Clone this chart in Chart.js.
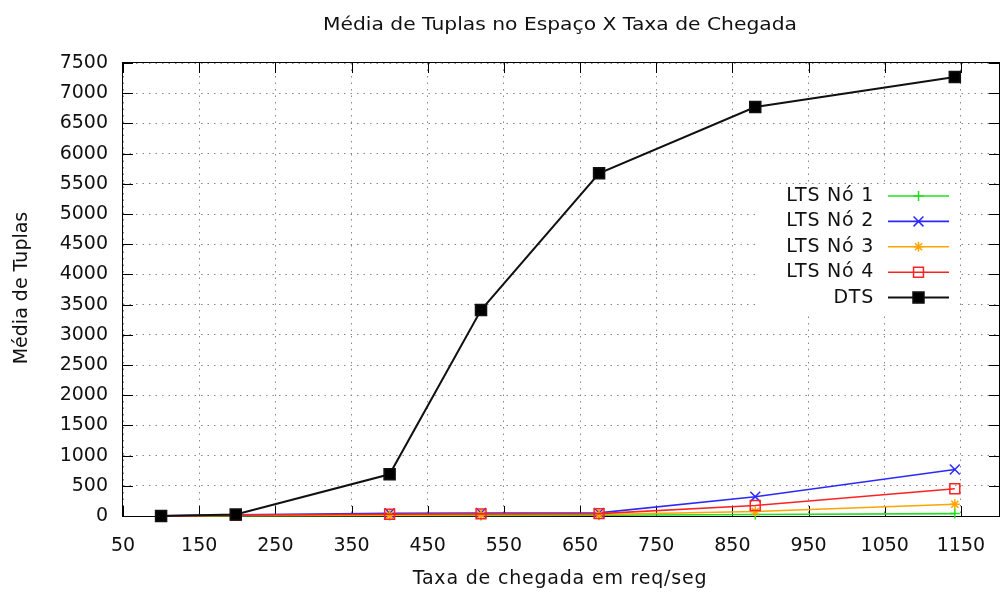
<!DOCTYPE html>
<html>
<head>
<meta charset="utf-8">
<script src="https://cdn.jsdelivr.net/npm/chart.js@4.4.0/dist/chart.umd.min.js"></script>
<style>
html, body { margin: 0; padding: 0; background: #fff; }
#wrap { width: 1000px; height: 592px; }
</style>
</head>
<body>
<div id="wrap"><canvas id="chartTuplas"></canvas></div>
<script>
const taxaChegada = [100, 198, 400, 520, 675, 880, 1142]
const ltsNo1 = [2, 5, 8, 10, 12, 25, 40]
const ltsNo2 = [3, 20, 45, 50, 52, 320, 770]
const ltsNo3 = [1, 8, 15, 20, 25, 75, 195]
const ltsNo4 = [2, 12, 28, 35, 40, 175, 450]
const dts = [0, 25, 690, 3410, 5675, 6770, 7270]
const xTicks = [50, 150, 250, 350, 450, 550, 650, 750, 850, 950, 1050, 1150]
const seriesNames = ['LTS Nó 1', 'LTS Nó 2', 'LTS Nó 3', 'LTS Nó 4', 'DTS']
const chartTitle = 'Média de Tuplas no Espaço X Taxa de Chegada'
const xTitle = 'Taxa de chegada em req/seg'
const yTitle = 'Média de Tuplas'

const FONT = 'DejaVu Sans'

function pts(ys) {
    return taxaChegada.map((x, i) => ({x: x, y: ys[i]}))
}

// gnuplot style frame, inward ticks, titles and opaque key
const gnuplotFrame = {
    id: 'gnuplotFrame',
    beforeDatasetsDraw(chart) {
        const {ctx, chartArea: a, scales: {x, y}} = chart
        ctx.save()
        // key box (opaque)
        ctx.fillStyle = '#fff'
        ctx.fillRect(760, 186, 197, 126)

        ctx.strokeStyle = '#000'
        ctx.lineWidth = 1
        ctx.beginPath()
        y.ticks.forEach(t => {
            const py = Math.round(y.getPixelForValue(t.value)) + 0.5
            ctx.moveTo(a.left, py); ctx.lineTo(a.left + 10, py)
            ctx.moveTo(a.right, py); ctx.lineTo(a.right - 10, py)
        })
        x.ticks.forEach(t => {
            const px = Math.round(x.getPixelForValue(t.value)) + 0.5
            ctx.moveTo(px, a.bottom); ctx.lineTo(px, a.bottom - 10)
            ctx.moveTo(px, a.top); ctx.lineTo(px, a.top + 10)
        })
        ctx.stroke()
        ctx.strokeRect(a.left - 0.5, a.top - 0.5, a.right - a.left + 1, a.bottom - a.top + 1)

        ctx.fillStyle = '#111'
        ctx.textBaseline = 'middle'
        ctx.textAlign = 'center'

        // title, stretched wide like the gnuplot png
        ctx.font = '18px "' + FONT + '"'
        const tw = ctx.measureText(chartTitle).width
        ctx.save()
        ctx.translate(560, 25)
        ctx.scale(474 / tw, 1)
        ctx.fillText(chartTitle, 0, 0)
        ctx.restore()

        ctx.font = '19px "' + FONT + '"'
        ctx.letterSpacing = '0.8px'
        ctx.fillText(xTitle, 560, 579)

        ctx.letterSpacing = '0px'
        ctx.save()
        ctx.translate(22, 288)
        ctx.rotate(-Math.PI / 2)
        ctx.fillText(yTitle, 0, 0)
        ctx.restore()

        // key entries
        ctx.letterSpacing = '0.75px'
        ctx.textAlign = 'right'
        chart.data.datasets.forEach((ds, i) => {
            const ry = 196 + i * 25.4
            ctx.fillStyle = '#111'
            ctx.fillText(seriesNames[i], 874, ry)
            ctx.strokeStyle = ds.borderColor
            ctx.lineWidth = ds.borderWidth
            ctx.beginPath()
            ctx.moveTo(888, ry); ctx.lineTo(949, ry)
            ctx.stroke()
            ctx.fillStyle = ds.pointBackgroundColor
            ctx.strokeStyle = ds.borderColor
            ctx.lineWidth = ds.pointBorderWidth
            Chart.helpers.drawPoint(ctx, {pointStyle: ds.pointStyle, radius: ds.pointRadius, rotation: 0, borderWidth: ds.pointBorderWidth}, 918.5, ry)
        })
        ctx.restore()
    }
}

const ctxTuplas = document.getElementById('chartTuplas').getContext('2d')
const chartTuplas = new Chart(ctxTuplas, {
    type: 'line',
    data: {
        datasets: [
            {label: seriesNames[0], data: pts(ltsNo1), borderColor: '#22e022', pointBackgroundColor: '#22e022', pointStyle: 'cross', pointRadius: 5, order: 5},
            {label: seriesNames[1], data: pts(ltsNo2), borderColor: '#2a2aff', pointBackgroundColor: '#2a2aff', pointStyle: 'crossRot', pointRadius: 7, order: 4},
            {label: seriesNames[2], data: pts(ltsNo3), borderColor: '#ffa500', pointBackgroundColor: '#ffa500', pointStyle: 'star', pointRadius: 5, order: 3},
            {label: seriesNames[3], data: pts(ltsNo4), borderColor: '#ff2222', pointBackgroundColor: 'rgba(0,0,0,0)', pointStyle: 'rect', pointRadius: 7, order: 2},
            {label: seriesNames[4], data: pts(dts), borderColor: '#111111', pointBackgroundColor: '#000000', pointStyle: 'rect', pointRadius: 7.8, borderWidth: 2, order: 1}
        ].map(d => Object.assign({borderWidth: 1.6, pointBorderWidth: 1.5, pointBorderColor: d.borderColor, tension: 0, fill: false, clip: false}, d))
    },
    options: {
        responsive: true,
        maintainAspectRatio: false,
        animation: false,
        layout: {autoPadding: false, padding: {left: 0, right: 1, top: 63, bottom: 0}},
        plugins: {
            legend: {display: false},
            tooltip: {enabled: false},
            title: {display: false}
        },
        scales: {
            x: {
                type: 'linear',
                min: 50,
                max: 1200,
                afterBuildTicks: axis => { axis.ticks = xTicks.map(v => ({value: v})) },
                afterFit: scale => { scale.height = 76; scale.paddingLeft = 0; scale.paddingRight = 0 },
                grid: {color: '#888', lineWidth: 1, drawTicks: false},
                border: {display: false, dash: [1.5, 5]},
                ticks: {color: '#111', padding: 19, maxRotation: 0, autoSkip: false, font: {family: FONT, size: 19}, callback: v => String(v)}
            },
            y: {
                min: 0,
                max: 7500,
                ticks: {stepSize: 500, color: '#111', padding: 15, font: {family: FONT, size: 19}, callback: v => String(v)},
                afterFit: scale => { scale.width = 123; scale.paddingTop = 0; scale.paddingBottom = 0 },
                grid: {color: '#888', lineWidth: 1, drawTicks: false},
                border: {display: false, dash: [1.5, 5]}
            }
        }
    },
    plugins: [gnuplotFrame]
})
</script>
</body>
</html>
